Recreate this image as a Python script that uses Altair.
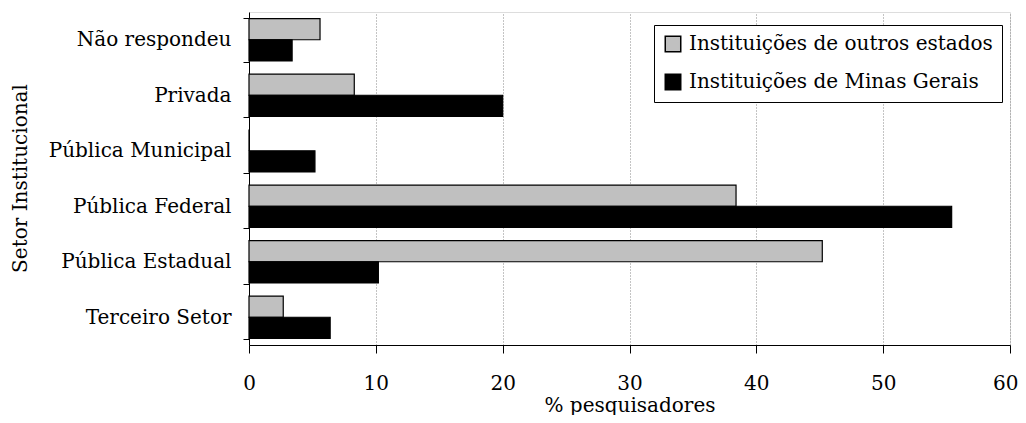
import altair as alt
import pandas as pd

categories = ["Não respondeu", "Privada", "Pública Municipal", "Pública Federal",
              "Pública Estadual", "Terceiro Setor"]
series = ["Instituições de outros estados", "Instituições de Minas Gerais"]
outros = [5.6, 8.3, 0.0, 38.4, 45.2, 2.7]
minas = [3.4, 20.0, 5.2, 55.4, 10.2, 6.4]
x_ticks = [0, 10, 20, 30, 40, 50, 60]

rows = []
for c, v in zip(categories, outros):
    rows.append({"setor": c, "grupo": series[0], "valor": v})
for c, v in zip(categories, minas):
    rows.append({"setor": c, "grupo": series[1], "valor": v})
df = pd.DataFrame(rows)

FONT = "DejaVu Serif"
FS = 20

bars = alt.Chart(df).mark_bar(stroke="black", strokeWidth=1.2).encode(
    x=alt.X("valor:Q",
            scale=alt.Scale(domain=[0, 60], nice=False),
            axis=alt.Axis(values=x_ticks, title="% pesquisadores", grid=True,
                          gridDash=[1, 2], gridColor="#888888", gridWidth=1,
                          tickSize=8, tickColor="black", domainColor="black",
                          labelPadding=20, labelFontSize=FS, labelFont=FONT,
                          labelColor="black", labelFlush=False,
                          labelAlign=alt.condition("datum.value == 60",
                                                   alt.value("right"),
                                                   alt.value("center")),
                          labelOffset=alt.condition("datum.value == 60",
                                                    alt.value(8),
                                                    alt.value(0)),
                          titleFontSize=FS, titleFont=FONT, titleFontWeight="normal",
                          titleColor="black", titleY=60, titleBaseline="middle")),
    y=alt.Y("setor:N", sort=categories,
            scale=alt.Scale(paddingInner=0.2, paddingOuter=0.1),
            axis=alt.Axis(title="Setor Institucional", tickBand="extent",
                          tickSize=6, tickColor="black", domainColor="black",
                          labelPadding=12, labelFontSize=FS, labelFont=FONT,
                          labelColor="black", grid=False, labelLimit=300,
                          titleFontSize=FS, titleFont=FONT, titleFontWeight="normal",
                          titleColor="black", titleX=-229, titleY=166,
                          titleAngle=-90, titleAlign="center",
                          titleBaseline="middle")),
    yOffset=alt.YOffset("grupo:N", sort=series,
                        scale=alt.Scale(paddingOuter=0.05)),
    color=alt.Color("grupo:N", sort=series,
                    scale=alt.Scale(domain=series, range=["#C0C0C0", "#000000"]),
                    legend=alt.Legend(title=None, orient="none", legendX=405,
                                      legendY=13, fillColor="white",
                                      strokeColor="black", padding=9,
                                      symbolType="square", symbolSize=240,
                                      symbolStrokeColor="black",
                                      symbolStrokeWidth=1.5,
                                      labelFont=FONT, labelFontSize=FS,
                                      labelColor="black", rowPadding=16,
                                      labelOffset=6, labelLimit=400)),
).properties(width=761, height=333)

chart = bars.properties(
    autosize=alt.AutoSizeParams(type="none"),
    padding={"left": 241, "top": 4, "right": 8, "bottom": 70},
).configure_view(stroke=None).configure(background="white")

chart.save("out.html", embed_options={"renderer": "svg", "actions": False})
